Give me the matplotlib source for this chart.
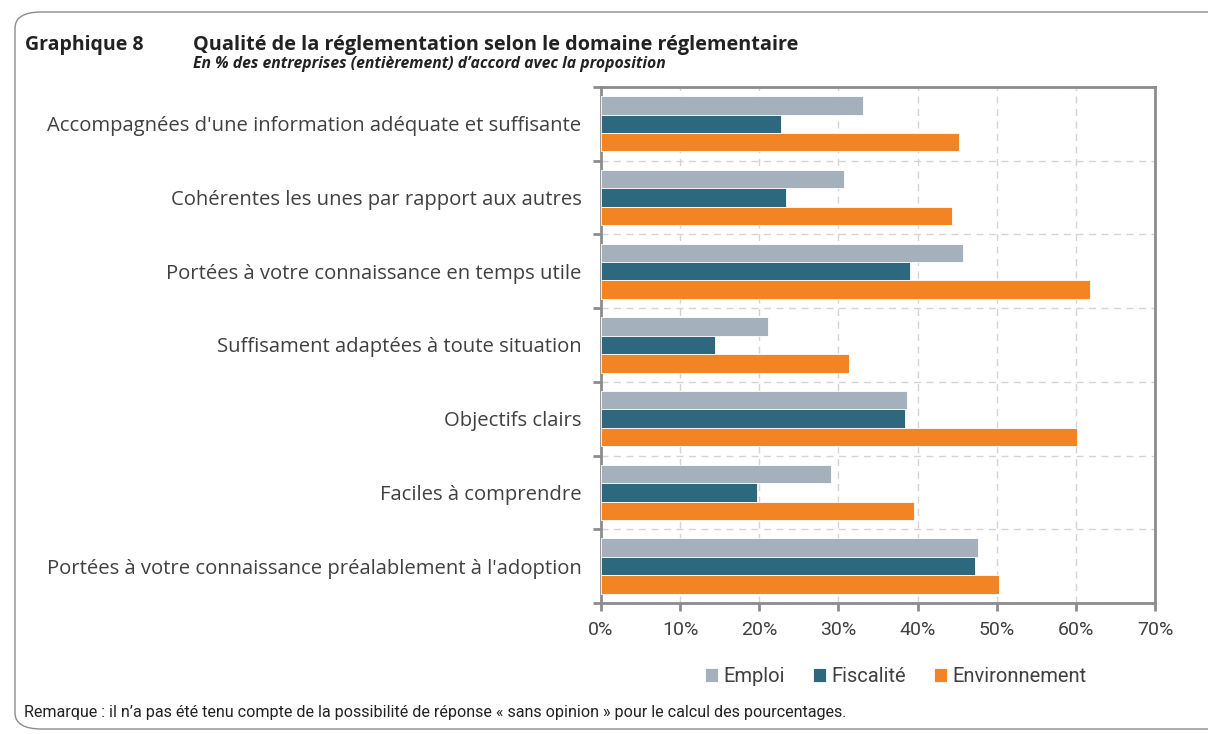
import matplotlib.pyplot as plt
import numpy as np
from matplotlib.patches import FancyBboxPatch
from matplotlib.ticker import FixedLocator, PercentFormatter

categories = [
    "Accompagnées d'une information adéquate et suffisante",
    "Cohérentes les unes par rapport aux autres",
    "Portées à votre connaissance en temps utile",
    "Suffisament adaptées à toute situation",
    "Objectifs clairs",
    "Faciles à comprendre",
    "Portées à votre connaissance préalablement à l'adoption",
]
emploi = [33.1, 30.7, 45.8, 21.1, 38.7, 29.1, 47.7]
fiscalite = [22.8, 23.4, 39.0, 14.4, 38.4, 19.7, 47.2]
environnement = [45.3, 44.4, 61.8, 31.4, 60.1, 39.5, 50.3]
series_names = ["Emploi", "Fiscalité", "Environnement"]
colors = ["#a5b0bd", "#2e687e", "#f38423"]

narrow = ["Roboto", "DejaVu Sans"]
label_font = ["Open Sans", "DejaVu Sans"]
grey_text = "#404040"

fig = plt.figure(figsize=(12.08, 7.34), dpi=100)
ax = fig.add_axes([0.4975, 0.1785, 0.4586, 0.703])

y = np.arange(len(categories))
h = 0.25
for i, (vals, name, c) in enumerate(zip([emploi, fiscalite, environnement], series_names, colors)):
    ax.barh(y + (i - 1) * h, vals, height=h, color=c, label=name,
            edgecolor="white", linewidth=0.6, zorder=3)

ax.set_xlim(0, 70)
ax.set_ylim(len(categories) - 0.5, -0.5)
ax.xaxis.set_major_locator(FixedLocator(np.arange(0, 71, 10)))
ax.xaxis.set_major_formatter(PercentFormatter(decimals=0))
ax.set_yticks(y)
ax.set_yticklabels(categories, fontsize=14.6, color=grey_text, family=label_font)
ax.yaxis.set_minor_locator(FixedLocator(np.arange(-0.5, len(categories), 1)))
ax.tick_params(axis="y", which="major", length=0, pad=14)
ax.tick_params(axis="y", which="minor", length=6, width=2, color="#8c8c8c", direction="out")
ax.tick_params(axis="x", length=6, width=2, color="#8c8c8c", labelsize=14,
               labelcolor=grey_text, pad=7)
for lab in ax.get_xticklabels():
    lab.set_family(narrow)

ax.grid(axis="x", which="major", linestyle=(0, (5, 4)), color="#d4d4d4", linewidth=1, zorder=0)
ax.grid(axis="y", which="minor", linestyle=(0, (5, 4)), color="#d4d4d4", linewidth=1, zorder=0)
for s in ax.spines.values():
    s.set_color("#8c8c8c")
    s.set_linewidth(2)

leg = ax.legend(loc="upper center", bbox_to_anchor=(0.532, -0.089), ncol=3, frameon=False,
                handlelength=0.65, handleheight=0.65, handletextpad=0.25, columnspacing=1.4,
                prop={"family": narrow, "size": 14.5})
for t in leg.get_texts():
    t.set_color(grey_text)

# frame around the whole chart
box = FancyBboxPatch((15 / 1208, 5 / 734), 1.05, 1 - 17 / 734,
                     boxstyle="round,pad=0,rounding_size=0.022",
                     transform=fig.transFigure, facecolor="none",
                     edgecolor="#8c8c8c", linewidth=1, clip_on=False)
fig.patches.append(box)

fig.text(25 / 1208, 1 - 45 / 734, "Graphique 8", fontsize=14, fontweight="bold",
         color="#222222", family=label_font, va="center")
fig.text(193 / 1208, 1 - 45 / 734, "Qualité de la réglementation selon le domaine réglementaire",
         fontsize=14.3, fontweight="bold", color="#222222", family=label_font, va="center")
fig.text(193 / 1208, 1 - 64 / 734, "En % des entreprises (entièrement) d\u2019accord avec la proposition",
         fontsize=11.3, fontweight="bold", style="italic", color="#222222", family=label_font,
         va="center")
fig.text(24 / 1208, 1 - 712 / 734,
         "Remarque : il n\u2019a pas été tenu compte de la possibilité de réponse « sans opinion » pour le calcul des pourcentages.",
         fontsize=11.6, color="#222222", family=narrow, va="center")

fig.savefig("out.png", dpi=100)
